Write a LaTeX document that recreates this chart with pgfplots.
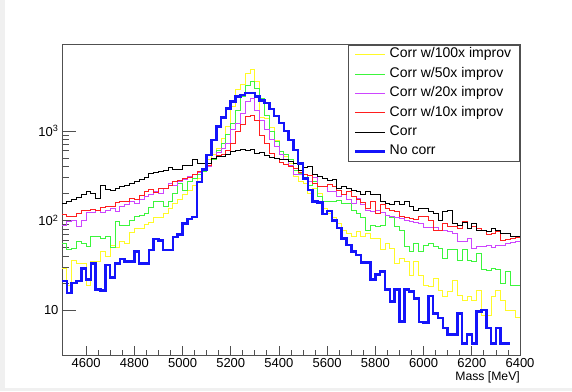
\documentclass[border=0pt]{standalone}
\usepackage{fontspec}
\setmainfont{Liberation Sans}
\usepackage{pgfplots}
\pgfplotsset{compat=1.18}
\usepackage{pgfplotstable}

\definecolor{cYe}{RGB}{255,250,40}
\definecolor{cGr}{RGB}{60,245,60}
\definecolor{cMa}{RGB}{205,70,255}
\definecolor{cRe}{RGB}{255,30,30}
\definecolor{cBl}{RGB}{20,20,250}
\definecolor{cAx}{RGB}{80,80,80}
\definecolor{cBd}{RGB}{240,240,240}

\pgfplotstableread{
x ye gr ma re bk bl
4500 29 55 87 118 156 21
4520 19 48 97 110 162 15.4
4540 36 49 100 110 170 20
4560 33 58 85 120 181 21
4580 33 55 100 128 193 29
4600 19 51 123 131 210 22
4620 35 66 123 134 198 33
4640 35 66 128 128 177 17
4660 45 63 123 141 243 16.4
4680 40 66 131 145 223 32
4700 52 50 137 143 219 23
4720 50 98 126 158 228 33
4740 58 87 143 162 239 37
4760 56 87 150 162 249 35
4780 73 100 162 177 260 35
4800 82 112 156 170 271 45
4820 82 115 170 188 285 33
4840 90 120 185 210 300 33
4860 94 140 193 223 331 47
4880 108 162 210 204 343 62
4900 108 162 201 228 351 60
4920 120 145 228 228 366 47
4940 137 162 260 249 393 47
4960 156 201 243 271 373 65
4980 172 260 271 279 373 70
5000 193 219 284 296 417 92
5020 219 271 308 304 417 104
5040 249 296 323 323 475 110
5060 296 323 343 351 435 268
5080 383 351 366 383 428 370
5100 475 435 399 417 428 540
5120 540 475 495 495 495 790
5140 640 613 573 526 516 1120
5160 830 730 640 540 516 1420
5180 1120 925 720 603 540 1790
5200 1870 1220 1030 730 587 2125
5220 2900 1680 1200 1000 613 2420
5240 3300 2420 1580 1170 624 2525
5260 4340 3250 2150 1470 603 2640
5280 4900 3550 2300 1500 624 2640
5300 3560 3000 1700 1300 563 2420
5320 1400 2300 1300 900 570 2180
5340 1390 1500 1050 720 526 2040
5360 1100 980 800 560 510 1750
5380 780 760 680 490 495 1470
5400 587 587 550 450 483 1220
5420 516 553 485 420 475 1000
5440 435 475 410 400 455 790
5460 308 366 323 380 428 613
5480 271 337 323 340 360 435
5500 260 323 296 330 393 296
5520 201 249 271 320 399 219
5540 228 271 300 260 323 162
5560 201 185 239 240 308 158
5580 137 162 239 240 296 118
5600 120 162 210 250 279 128
5620 108 165 210 239 284 100
5640 93 167 185 219 228 82
5660 78 156 193 193 239 63
5680 72 156 170 210 228 53
5700 66 131 156 185 219 45
5720 75 120 177 170 210 41
5740 66 108 150 158 193 34
5760 72 78 131 137 210 34
5780 63 87 126 162 193 22
5800 63 85 131 120 193 25
5820 47 89 123 150 162 27
5840 56 115 115 137 156 17
5860 49 108 112 131 150 12.4
5880 33 85 108 126 162 17
5900 38 78 106 110 150 7.4
5920 35 51 100 108 162 17
5940 24.5 45 97 106 145 16
5960 35 56 94 103 131 13.5
5980 24.5 45 93 110 137 7.3
6000 19 53 83 110 137 7.2
6020 18.2 56 83 100 126 14.4
6040 22.5 51 83 78 120 9.1
6060 16.7 49 78 78 100 8.1
6080 14.1 38 77 93 126 6.3
6100 15.9 47 75 85 131 5.3
6120 21.6 47 72 85 93 5.3
6140 14.7 36 58 82 89 9.1
6160 12.9 47 58 97 94 4.2
6180 14.1 36 63 82 82 5.3
6200 12.9 35 49 85 93 4.2
6220 16.7 43 51 82 78 9.6
6240 8.7 28 51 78 78 10
6260 8.7 27.6 53 69 75 6.3
6280 14.1 29 50 72 82 4.2
6300 16.7 28.5 52 75 78 6.3
6320 12.9 20 53 60 72 4.2
6340 10 27 56 61 72 4.2
6360 10 19 57 63 66 4.2
6380 8.3 19 58 64 66 nan
6400 8.3 19 58 64 66 nan
}\datatable

\begin{document}
\begin{tikzpicture}
\begin{axis}[
  scale only axis, width=458pt, height=310.3pt,
  xmin=4500, xmax=6400,
  ymode=log, ymin=3.14, ymax=9200,
  axis line style={draw=cAx, line width=0.9pt},
  tick pos=left, tick align=inside,
  xtick={4600,4800,...,6400},
  minor x tick num=3,
  ytick={10,100,1000},
  yticklabels={10,10\textsuperscript{2},10\textsuperscript{3}},
  xtick style={draw=cAx, line width=0.8pt, /pgfplots/major tick length=9.3pt, /pgfplots/minor tick length=4.6pt},
  ytick style={draw=cAx, line width=0.8pt, /pgfplots/major tick length=14pt, /pgfplots/minor tick length=7pt},
  tick label style={font=\fontsize{13}{15}\selectfont},
  xticklabel style={/pgf/number format/1000 sep={}, /pgf/number format/assume math mode=true},
  xlabel={Mass [MeV]},
  xlabel style={at={(rel axis cs:1,0)}, anchor=north east, yshift=-16pt, inner sep=0pt, font=\fontsize{12.2}{14}\selectfont},
  legend style={at={(rel axis cs:1,1)}, anchor=north east, draw=cAx, line width=0.8pt, fill=white,
    font=\fontsize{14}{16}\selectfont, inner xsep=5.5pt, inner ysep=3.4pt, row sep=6.9pt,
    nodes={inner xsep=3pt, inner ysep=0pt, text height=9.5pt, text depth=3pt}},
  legend cell align=left,
  legend image code/.code={\draw[#1] (0pt,0pt) -- (30pt,0pt);},
  unbounded coords=jump,
]
\addplot[const plot, cYe, line width=0.9pt] table[x=x, y=ye] {\datatable};
\addlegendentry{Corr w/100x improv}
\addplot[const plot, cGr, line width=0.9pt] table[x=x, y=gr] {\datatable};
\addlegendentry{Corr w/50x improv}
\addplot[const plot, cMa, line width=0.9pt] table[x=x, y=ma] {\datatable};
\addlegendentry{Corr w/20x improv}
\addplot[const plot, cRe, line width=0.9pt] table[x=x, y=re] {\datatable};
\addlegendentry{Corr w/10x improv}
\addplot[const plot, black, line width=0.9pt] table[x=x, y=bk] {\datatable};
\addlegendentry{Corr}
\addplot[const plot, cBl, line width=2.5pt] table[x=x, y=bl] {\datatable};
\addlegendentry{No corr}
\end{axis}
\pgfresetboundingbox
\path[use as bounding box] ([shift={(-62pt,-36pt)}]current axis.south west) rectangle ++(572pt,391pt);
\fill[cBd] ([shift={(-62pt,-36pt)}]current axis.south west) rectangle ++(5pt,391pt);
\fill[cBd] ([shift={(-62pt,-36pt)}]current axis.south west) rectangle ++(572pt,3pt);
\end{tikzpicture}
\end{document}
